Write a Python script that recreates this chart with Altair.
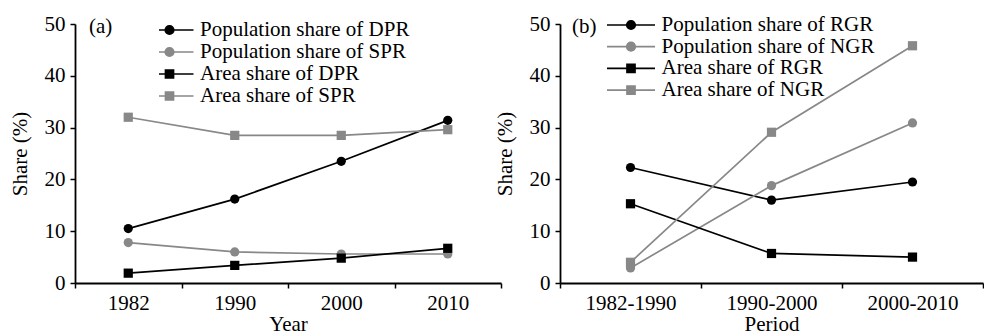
import altair as alt
import pandas as pd

FONT = "Liberation Serif"
BLACK = "#000000"
GRAY = "#888888"

# ---- panel (a) ----
years = ["1982", "1990", "2000", "2010"]
series_a = ["Population share of DPR", "Population share of SPR",
            "Area share of DPR", "Area share of SPR"]
pop_dpr = [10.5, 16.2, 23.5, 31.4]
pop_spr = [7.8, 6.0, 5.6, 5.6]
area_dpr = [1.9, 3.4, 4.8, 6.7]
area_spr = [32.0, 28.5, 28.5, 29.6]

# ---- panel (b) ----
periods = ["1982-1990", "1990-2000", "2000-2010"]
series_b = ["Population share of RGR", "Population share of NGR",
            "Area share of RGR", "Area share of NGR"]
pop_rgr = [22.3, 16.0, 19.5]
pop_ngr = [2.9, 18.8, 30.9]
area_rgr = [15.3, 5.7, 5.0]
area_ngr = [4.0, 29.1, 45.8]

y_ticks = [0, 10, 20, 30, 40, 50]
series_colors = [BLACK, GRAY, BLACK, GRAY]

SQUARE_PATH = "M-4.8,0H4.8M-0.8,-0.8H0.8V0.8H-0.8Z"
CIRCLE_PATH = "M-4.8,0H4.8M0.85,0A0.85,0.85,0,1,1,-0.85,0A0.85,0.85,0,1,1,0.85,0Z"
SYMBOL_EXPR = f"indexof(datum.value, 'Area') === 0 ? '{SQUARE_PATH}' : '{CIRCLE_PATH}'"

AXIS_STYLE = dict(
    domainColor=BLACK, domainWidth=1.8, tickColor=BLACK, tickWidth=1.5, tickSize=5,
    labelFont=FONT, labelFontSize=21, labelColor=BLACK,
    titleFont=FONT, titleFontSize=21, titleFontWeight="normal", titleColor=BLACK,
    grid=False,
)


def panel(cats, names, series_vals, xtitle, tag, width, legend_x, legend_y,
          legend_extra, title_dx, title_dy):
    df = pd.DataFrame([
        {"cat": c, "series": n, "value": v}
        for n, vals in zip(names, series_vals)
        for c, v in zip(cats, vals)
    ])
    enc = dict(
        x=alt.X("cat:N", sort=cats,
                scale=alt.Scale(type="band", domain=cats, paddingInner=0, paddingOuter=0),
                axis=alt.Axis(title=xtitle, labelAngle=0, tickBand="extent",
                              labelPadding=4, titlePadding=0, **AXIS_STYLE)),
        y=alt.Y("value:Q",
                scale=alt.Scale(domain=[0, 50], nice=False, zero=True),
                axis=alt.Axis(title="Share (%)", values=y_ticks,
                              labelPadding=5, titlePadding=14, **AXIS_STYLE)),
        color=alt.Color("series:N", sort=names,
                        scale=alt.Scale(domain=names, range=series_colors),
                        legend=alt.Legend(
                            title=None, orient="none",
                            legendX=legend_x, legendY=legend_y,
                            symbolType={"expr": SYMBOL_EXPR},
                            symbolSize=100, symbolStrokeWidth=1.7,
                            labelFont=FONT, labelFontSize=21, labelColor=BLACK,
                            labelOffset=20, labelLimit=0,
                            padding=0, **legend_extra)),
    )
    base = alt.Chart(df)
    line = base.mark_line(strokeWidth=1.7).encode(**enc)
    circ = base.transform_filter("indexof(datum.series, 'Population') === 0") \
        .mark_circle(size=85, opacity=1).encode(**enc)
    sq = base.transform_filter("indexof(datum.series, 'Area') === 0") \
        .mark_square(size=85, opacity=1).encode(**enc)
    return alt.layer(line, circ, sq).properties(
        width=width, height=259,
        title=alt.TitleParams(text=tag, anchor="start", frame="group", orient="top",
                              offset=0, dx=title_dx, dy=title_dy,
                              baseline="alphabetic", font=FONT, fontSize=21,
                              fontWeight="normal", color=BLACK),
    )


pa = panel(years, series_a, [pop_dpr, pop_spr, area_dpr, area_spr],
           "Year", "(a)", 426, 84, -3.75, {"clipHeight": 19.5, "rowPadding": 0}, 14, 41)
pb = panel(periods, series_b, [pop_rgr, pop_ngr, area_rgr, area_ngr],
           "Period", "(b)", 423, 60.5, -9.5, {"rowPadding": -0.3}, 12, 41)

chart = alt.hconcat(pa, pb, spacing=59, bounds="flush").resolve_scale(
    color="independent"
).resolve_legend(color="independent").properties(
    padding={"left": 9, "top": 13, "right": 0, "bottom": 0}
).configure_view(stroke=None).configure_axis(**AXIS_STYLE)

chart.save("out.html", embed_options={"renderer": "svg", "actions": False})
